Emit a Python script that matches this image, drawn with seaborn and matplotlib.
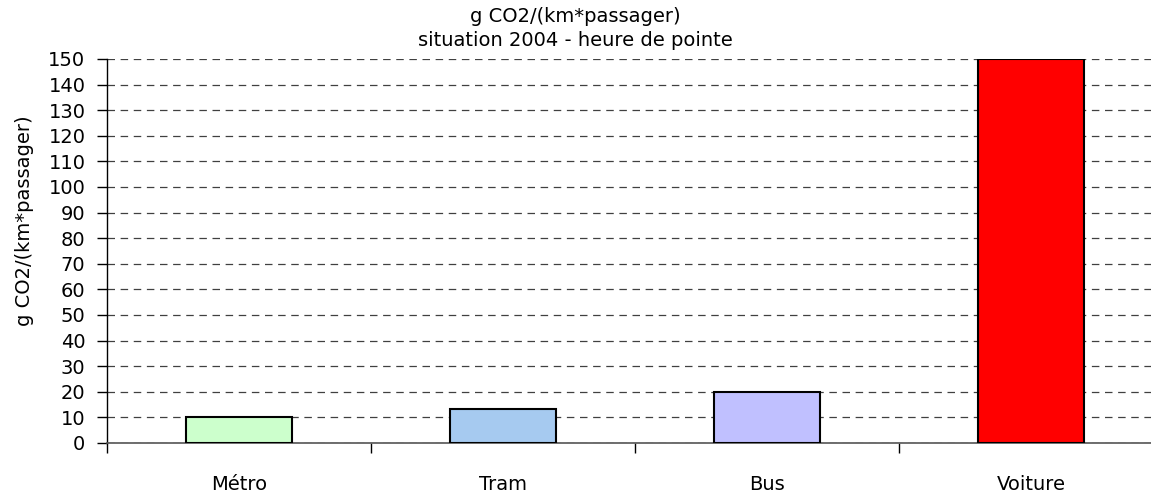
import matplotlib
matplotlib.use("Agg")
import matplotlib.pyplot as plt
import seaborn as sns
import pandas as pd

categories = ["Métro", "Tram", "Bus", "Voiture"]
values = [10, 13.3, 20, 150]
colors = ["#CCFFCC", "#A6CAF0", "#C0C0FF", "#FF0000"]
yticks = list(range(0, 151, 10))

sns.set_theme(style="white")
plt.rcParams['font.family'] = ['DejaVu Sans']
plt.rcParams['text.color'] = 'black'
plt.rcParams['axes.labelcolor'] = 'black'
plt.rcParams['xtick.color'] = 'black'
plt.rcParams['ytick.color'] = 'black'

FS = 14

df = pd.DataFrame({"mode": categories, "val": values})

W, H = 1151, 495
fig = plt.figure(figsize=(W / 100, H / 100), dpi=100)
ax = fig.add_axes([107 / W, 52 / H, (1163 - 107) / W, 384 / H])

sns.barplot(data=df, x="mode", y="val", hue="mode", palette=dict(zip(categories, colors)),
            order=categories, width=0.4, edgecolor="black", linewidth=1.5,
            saturation=1, legend=False, ax=ax, zorder=3)

ax.set_ylim(0, 150)
ax.set_xlim(-0.5, 3.5)
ax.set_yticks(yticks)
ax.set_yticklabels([str(t) for t in yticks], fontsize=FS)
ax.yaxis.grid(True, linestyle=(0, (6, 4.5)), color="#404040", linewidth=0.9, zorder=0)
ax.xaxis.grid(False)
ax.set_axisbelow(True)

# category boundaries as major ticks, labels on minor ticks
ax.set_xticks([-0.5, 0.5, 1.5, 2.5, 3.5])
ax.set_xticklabels([])
ax.set_xticks([0, 1, 2, 3], minor=True)
ax.set_xticklabels(categories, minor=True, fontsize=FS)
ax.tick_params(axis="x", which="major", length=7, width=1, color="black", direction="out", bottom=True)
ax.tick_params(axis="x", which="minor", length=0, pad=23)
ax.tick_params(axis="y", length=7, width=1, color="black", direction="out", left=True, pad=8.5)

for s in ["top", "right"]:
    ax.spines[s].set_visible(False)
ax.spines["left"].set_color("black")
ax.spines["bottom"].set_color("#555555")
ax.spines["left"].set_linewidth(1)
ax.spines["bottom"].set_linewidth(1.2)

ax.set_xlabel("")
ax.set_ylabel("g CO2/(km*passager)", fontsize=FS)
ax.yaxis.set_label_coords((34 - 107) / 1056, (443 - 221) / 384)

fig.text(0.5, 1 - 17 / H, "g CO2/(km*passager)", ha="center", va="center", fontsize=FS)
fig.text(0.5, 1 - 40 / H, "situation 2004 - heure de pointe", ha="center", va="center", fontsize=FS)

fig.savefig("out.png", dpi=100)
